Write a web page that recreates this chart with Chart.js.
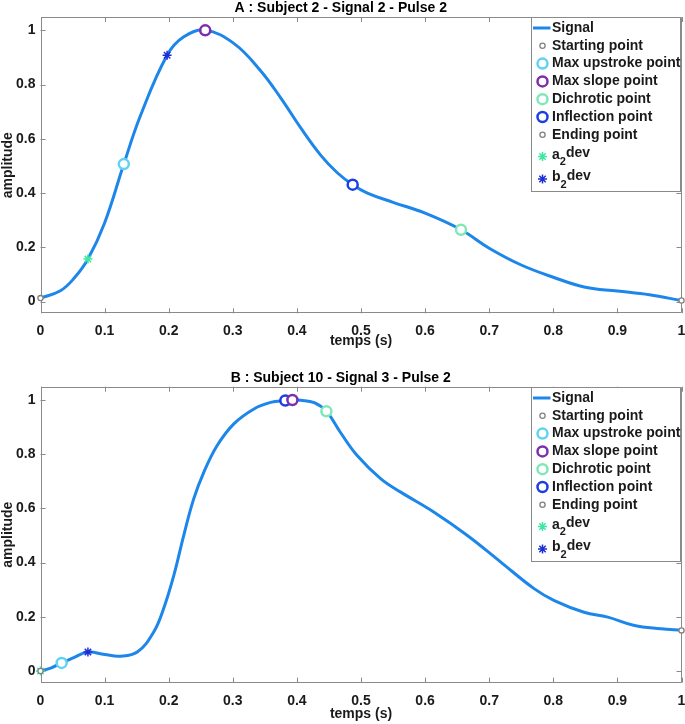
<!DOCTYPE html>
<html>
<head>
<meta charset="utf-8">
<script src="https://cdn.jsdelivr.net/npm/chart.js@4.4.1/dist/chart.umd.min.js"></script>
<style>
  html, body { margin: 0; padding: 0; background: #fff; }
  canvas { display: block; }
</style>
</head>
<body>
<canvas id="pulseA" width="685" height="362"></canvas>
<canvas id="pulseB" width="685" height="362"></canvas>
<script>
// axis ticks
const xTicks = [0, 0.1, 0.2, 0.3, 0.4, 0.5, 0.6, 0.7, 0.8, 0.9, 1];
const xTickLabels = ['0', '0.1', '0.2', '0.3', '0.4', '0.5', '0.6', '0.7', '0.8', '0.9', '1'];
const yTicks = [0, 0.2, 0.4, 0.6, 0.8, 1];
const yTickLabels = ['0', '0.2', '0.4', '0.6', '0.8', '1'];

// legend entries (after the signal line)
const markerLabels = ['Starting point', 'Max upstroke point', 'Max slope point', 'Dichrotic point',
                      'Inflection point', 'Ending point', 'a_2dev', 'b_2dev'];

// A : Subject 2 - Signal 2 - Pulse 2
const timeA = [0, 0.031, 0.052, 0.074, 0.1, 0.13, 0.156, 0.1975, 0.223, 0.257, 0.302, 0.343, 0.375,
               0.406, 0.437, 0.463, 0.487, 0.51, 0.55, 0.6, 0.656, 0.7, 0.75, 0.8, 0.85, 0.9, 0.95, 1];
const signalA = [0.013, 0.04, 0.085, 0.157, 0.29, 0.507, 0.686, 0.908, 0.975, 1.0, 0.951, 0.852, 0.75,
                 0.64, 0.54, 0.475, 0.431, 0.4, 0.366, 0.326, 0.265, 0.197, 0.135, 0.09, 0.053, 0.039,
                 0.025, 0.004];
const markerXA = [0, 0.13, 0.257, 0.656, 0.487, 1, 0.074, 0.1975];
const markerYA = [0.013, 0.507, 1.0, 0.265, 0.431, 0.004, 0.157, 0.908];

// B : Subject 10 - Signal 3 - Pulse 2
const timeB = [0, 0.017, 0.033, 0.05, 0.074, 0.1, 0.1245, 0.151, 0.1766, 0.192, 0.208, 0.2234, 0.239,
               0.2547, 0.2756, 0.3016, 0.333, 0.359, 0.382, 0.393, 0.406, 0.427, 0.446, 0.468, 0.494,
               0.531, 0.562, 0.614, 0.666, 0.718, 0.77, 0.8016, 0.848, 0.885, 0.9266, 0.968, 1];
const signalB = [0, 0.012, 0.03, 0.048, 0.07, 0.061, 0.055, 0.07, 0.144, 0.23, 0.353, 0.5, 0.635,
                 0.733, 0.832, 0.912, 0.967, 0.991, 0.998, 1.0, 0.999, 0.99, 0.958, 0.88, 0.795,
                 0.709, 0.66, 0.586, 0.5, 0.402, 0.304, 0.26, 0.217, 0.199, 0.168, 0.156, 0.15];
const markerXB = [0, 0.033, 0.393, 0.446, 0.382, 1, 0, 0.074];
const markerYB = [0, 0.03, 1.0, 0.958, 0.998, 0.15, 0, 0.07];

// marker styles
const markerColors = ['#808080', '#5fd3f3', '#7b2fae', '#7ee8b8', '#1b3fe0', '#808080', '#3ee8a0', '#1c2fd6'];
const markerShapes = ['circle', 'circle', 'circle', 'circle', 'circle', 'circle', 'star', 'star'];
const markerRadius = [2.6, 5, 5, 5, 5, 2.6, 4.5, 4.5];
const markerBorder = [1.3, 2.5, 2.5, 2.5, 2.5, 1.3, 1.5, 1.5];
const lineColor = '#1d86ea';
const frameColor = '#8a8a8a';
const textColor = '#1a1a1a';

Chart.defaults.font.family = '"Liberation Sans", Arial, sans-serif';
const boldFont = { size: 14, weight: 'bold', lineHeight: 1 };
const legendFont = 'bold 14px "Liberation Sans", Arial, sans-serif';
const subFont = 'bold 11px "Liberation Sans", Arial, sans-serif';

// MATLAB style box with inward ticks
const frameTicks = {
    id: 'frameTicks',
    beforeDatasetsDraw(chart) {
        const { ctx, chartArea: a, scales: { x, y } } = chart;
        ctx.save();
        ctx.strokeStyle = frameColor;
        ctx.lineWidth = 1;
        ctx.beginPath();
        ctx.rect(Math.round(a.left) + 0.5, Math.round(a.top) + 0.5,
                 Math.round(a.right - a.left) - 1, Math.round(a.bottom - a.top) - 1);
        xTicks.forEach(v => {
            const px = Math.round(x.getPixelForValue(v)) + 0.5;
            ctx.moveTo(px, a.bottom); ctx.lineTo(px, a.bottom - 5);
            ctx.moveTo(px, a.top); ctx.lineTo(px, a.top + 5);
        });
        yTicks.forEach(v => {
            const py = Math.round(y.getPixelForValue(v)) + 0.5;
            ctx.moveTo(a.left, py); ctx.lineTo(a.left + 5, py);
            ctx.moveTo(a.right, py); ctx.lineTo(a.right - 5, py);
        });
        ctx.stroke();
        ctx.restore();
    }
};

function drawSymbol(ctx, ds, cx, cy) {
    ctx.save();
    if (ds.showLine) {
        ctx.strokeStyle = ds.borderColor;
        ctx.lineWidth = 3;
        ctx.beginPath();
        ctx.moveTo(cx - 9.5, cy); ctx.lineTo(cx + 8, cy);
        ctx.stroke();
    } else if (ds.pointStyle === 'star') {
        const r = ds.pointRadius;
        ctx.strokeStyle = ds.borderColor;
        ctx.lineWidth = ds.pointBorderWidth;
        ctx.beginPath();
        for (let k = 0; k < 4; k++) {
            const ang = k * Math.PI / 4;
            ctx.moveTo(cx - r * Math.cos(ang), cy - r * Math.sin(ang));
            ctx.lineTo(cx + r * Math.cos(ang), cy + r * Math.sin(ang));
        }
        ctx.stroke();
    } else {
        ctx.strokeStyle = ds.borderColor;
        ctx.fillStyle = '#fff';
        ctx.lineWidth = ds.pointBorderWidth;
        ctx.beginPath();
        ctx.arc(cx, cy, ds.pointRadius, 0, Math.PI * 2);
        ctx.fill();
        ctx.stroke();
    }
    ctx.restore();
}

// legend box inside the top right corner of the axes
const boxLegend = {
    id: 'boxLegend',
    afterDraw(chart) {
        const { ctx, chartArea: a } = chart;
        const w = 149, h = 174;
        const left = Math.round(a.right - w - 2), top = Math.round(a.top);
        const rows = [11, 28.8, 46.6, 64.4, 82.2, 100, 117.8, 138, 160.5];
        ctx.save();
        ctx.fillStyle = '#fff';
        ctx.fillRect(left, top, w, h);
        ctx.strokeStyle = frameColor;
        ctx.lineWidth = 1;
        ctx.strokeRect(left + 0.5, top + 0.5, w, h);
        ctx.textBaseline = 'middle';
        chart.data.datasets.forEach((ds, i) => {
            const cy = top + rows[i];
            const sub = ds.label.includes('_');
            drawSymbol(ctx, ds, left + 11.5, cy + (sub ? 1.5 : 0));
            let tx = left + 21;
            ctx.fillStyle = textColor;
            ctx.font = legendFont;
            if (sub) {
                const [pre, rest] = ds.label.split('_');
                ctx.fillText(pre, tx, cy);
                tx += ctx.measureText(pre).width;
                ctx.font = subFont;
                ctx.fillText(rest[0], tx, cy + 7);
                tx += ctx.measureText(rest[0]).width;
                ctx.font = legendFont;
                ctx.fillText(rest.slice(1), tx, cy - 1.5);
            } else {
                ctx.fillText(ds.label, tx, cy);
            }
        });
        ctx.restore();
    }
};

function pulseChart(id, title, time, signal, mx, my, lay) {
    const datasets = [{
        label: 'Signal',
        data: time.map((t, i) => ({ x: t, y: signal[i] })),
        showLine: true,
        borderColor: lineColor,
        borderWidth: 3,
        pointRadius: 0,
        tension: 0.4,
        clip: false,
        order: 1
    }];
    markerLabels.forEach((name, i) => {
        datasets.push({
            label: name,
            data: [{ x: mx[i], y: my[i] }],
            pointStyle: markerShapes[i],
            pointRadius: markerRadius[i],
            pointBorderWidth: markerBorder[i],
            borderColor: markerColors[i],
            backgroundColor: markerShapes[i] === 'star' ? markerColors[i] : '#fff',
            clip: false,
            order: 0
        });
    });

    new Chart(document.getElementById(id).getContext('2d'), {
        type: 'scatter',
        data: { datasets },
        options: {
            responsive: false,
            animation: false,
            events: [],
            layout: { autoPadding: false, padding: { left: 0, right: 3.5, top: 0, bottom: 0 } },
            scales: {
                x: {
                    type: 'linear', min: 0, max: 1,
                    afterBuildTicks: s => { s.ticks = xTicks.map(v => ({ value: v })); },
                    afterFit: s => { s.height = lay.xHeight; s.paddingLeft = 0; s.paddingRight = 0; },
                    ticks: { callback: (v, i) => xTickLabels[i], font: boldFont, color: textColor,
                             padding: 11, maxRotation: 0, autoSkip: false },
                    grid: { display: false, drawTicks: false },
                    border: { display: false },
                    title: { display: true, text: 'temps (s)', font: boldFont, color: textColor,
                             padding: { top: 0, bottom: lay.xTitlePad } }
                },
                y: {
                    type: 'linear', min: -0.043, max: 1.049,
                    afterBuildTicks: s => { s.ticks = yTicks.map(v => ({ value: v })); },
                    afterFit: s => { s.width = 40.5; s.paddingTop = 0; s.paddingBottom = 0; },
                    ticks: { callback: (v, i) => yTickLabels[i], font: boldFont, color: textColor, padding: 5 },
                    grid: { display: false, drawTicks: false },
                    border: { display: false },
                    title: { display: true, text: 'amplitude', font: boldFont, color: textColor,
                             padding: { top: 1, bottom: 0 } }
                }
            },
            plugins: {
                legend: { display: false },
                tooltip: { enabled: false },
                title: { display: true, text: title, font: boldFont, color: '#000',
                         padding: { top: lay.titleTop, bottom: lay.titleBottom } }
            }
        },
        plugins: [frameTicks, boxLegend]
    });
}

pulseChart('pulseA', 'A : Subject 2 - Signal 2 - Pulse 2', timeA, signalA, markerXA, markerYA,
           { titleTop: 1, titleBottom: 2, xHeight: 48.7, xTitlePad: 13.5 });
pulseChart('pulseB', 'B : Subject 10 - Signal 3 - Pulse 2', timeB, signalB, markerXB, markerYB,
           { titleTop: 9.5, titleBottom: 1.2, xHeight: 41.3, xTitlePad: 2.5 });
</script>
</body>
</html>
